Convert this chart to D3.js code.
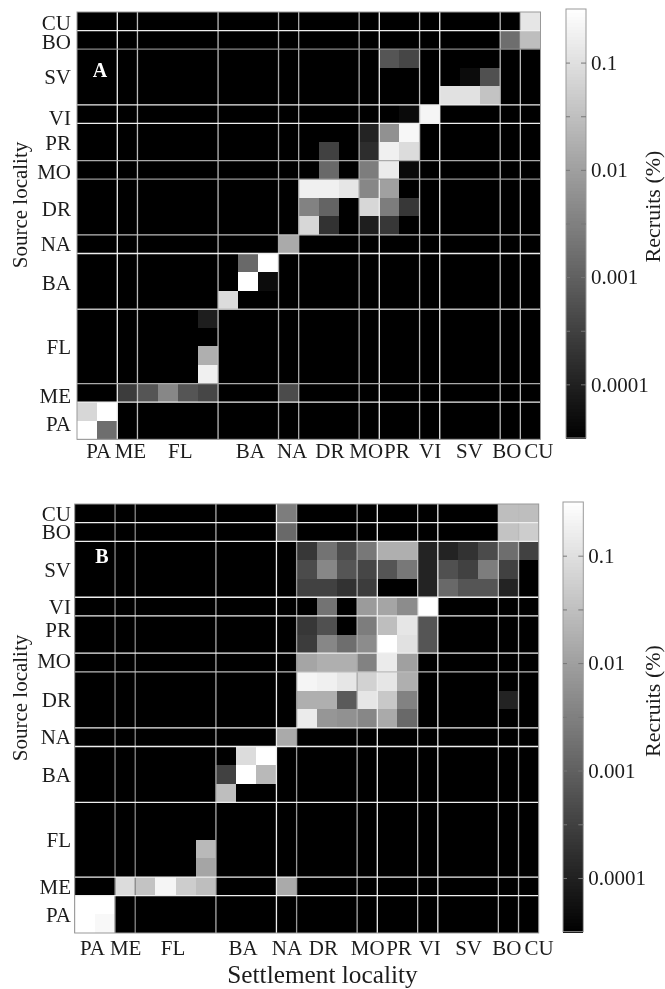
<!DOCTYPE html>
<html>
<head>
<meta charset="utf-8">
<script src="https://cdn.jsdelivr.net/npm/d3@7"></script>
<style>
body { margin: 0; background: #fff; }
svg { display: block; filter: blur(0.4px); }
text { font-family: "Liberation Serif", serif; fill: #1c1c1c; }
</style>
</head>
<body>
<div id="vis"></div>
<script>
// localities along the settlement axis, left to right, and how many sites each has
var localities = ["PA", "ME", "FL", "BA", "NA", "DR", "MO", "PR", "VI", "SV", "BO", "CU"];
var siteCounts = [2, 1, 4, 3, 1, 3, 1, 2, 1, 3, 1, 1];

// colorbar
var majorTicks = [0.1, 0.01, 0.001, 0.0001];
var minorTicks = [0.0316, 0.00316, 0.000316];
var recruitsRange = [0.0000316, 0.316];

// recruits (%) as [source row from top, settlement column from left, value]; the rest are below the scale
var cellsA = [
  [0, 22, 0.128],
  [1, 21, 0.0017], [1, 22, 0.03],
  [2, 15, 0.00068], [2, 16, 0.0004],
  [3, 19, 0.000049], [3, 20, 0.00057],
  [4, 18, 0.107], [4, 19, 0.107], [4, 20, 0.036],
  [5, 16, 0.000045], [5, 17, 0.22],
  [6, 14, 0.000112], [6, 15, 0.0059], [6, 16, 0.237],
  [7, 12, 0.00033], [7, 14, 0.00016], [7, 15, 0.184], [7, 16, 0.089],
  [8, 12, 0.0014], [8, 14, 0.0029], [8, 15, 0.153], [8, 16, 0.000045],
  [9, 11, 0.184], [9, 12, 0.184], [9, 13, 0.128], [9, 14, 0.0041], [9, 15, 0.0102],
  [10, 11, 0.0035], [10, 12, 0.00117], [10, 14, 0.075], [10, 15, 0.0029], [10, 16, 0.00023],
  [11, 11, 0.075], [11, 12, 0.00019], [11, 14, 0.000093], [11, 15, 0.00023],
  [12, 10, 0.0147],
  [13, 8, 0.0014], [13, 9, 0.316],
  [14, 8, 0.316], [14, 9, 0.000049],
  [15, 7, 0.089],
  [16, 6, 0.000093],
  [18, 6, 0.0176],
  [19, 6, 0.184],
  [20, 2, 0.00028], [20, 3, 0.00068], [20, 4, 0.0041], [20, 5, 0.00068], [20, 6, 0.0004], [20, 10, 0.00047],
  [21, 0, 0.075], [21, 1, 0.316],
  [22, 0, 0.316], [22, 1, 0.0017]
];

var cellsB = [
  [0, 10, 0.0029], [0, 21, 0.03], [0, 22, 0.03],
  [1, 10, 0.0014], [1, 21, 0.036], [1, 22, 0.052],
  [2, 11, 0.00023], [2, 12, 0.002], [2, 13, 0.00047], [2, 14, 0.0024], [2, 15, 0.0176], [2, 16, 0.0176],
  [2, 17, 0.000112], [2, 18, 0.000112], [2, 19, 0.00019], [2, 20, 0.00047], [2, 21, 0.0017], [2, 22, 0.00033],
  [3, 11, 0.00047], [3, 12, 0.0041], [3, 13, 0.00068], [3, 14, 0.0004], [3, 15, 0.00068], [3, 16, 0.0024],
  [3, 17, 0.000112], [3, 18, 0.00057], [3, 19, 0.00033], [3, 20, 0.0029], [3, 21, 0.00033],
  [4, 11, 0.00033], [4, 12, 0.00033], [4, 13, 0.00019], [4, 14, 0.00028],
  [4, 17, 0.000112], [4, 18, 0.0014], [4, 19, 0.00068], [4, 20, 0.00068], [4, 21, 0.000112],
  [5, 12, 0.002], [5, 14, 0.0085], [5, 15, 0.0122], [5, 16, 0.005], [5, 17, 0.316],
  [6, 11, 0.00023], [6, 12, 0.00057], [6, 14, 0.0029], [6, 15, 0.03], [6, 16, 0.128], [6, 17, 0.00068],
  [7, 11, 0.00028], [7, 12, 0.0041], [7, 13, 0.0017], [7, 14, 0.005], [7, 15, 0.316], [7, 16, 0.107], [7, 17, 0.00068],
  [8, 11, 0.0122], [8, 12, 0.0176], [8, 13, 0.0176], [8, 14, 0.0035], [8, 15, 0.153], [8, 16, 0.0102],
  [9, 11, 0.22], [9, 12, 0.184], [9, 13, 0.128], [9, 14, 0.062], [9, 15, 0.128], [9, 16, 0.0176],
  [10, 11, 0.0176], [10, 12, 0.0176], [10, 13, 0.00082], [10, 14, 0.128], [10, 15, 0.043], [10, 16, 0.0035], [10, 21, 0.000112],
  [11, 11, 0.153], [11, 12, 0.0071], [11, 13, 0.0059], [11, 14, 0.0041], [11, 15, 0.0147], [11, 16, 0.0014],
  [12, 10, 0.0147],
  [13, 8, 0.089], [13, 9, 0.316],
  [14, 7, 0.00033], [14, 8, 0.316], [14, 9, 0.025],
  [15, 7, 0.03],
  [18, 6, 0.025],
  [19, 6, 0.0122],
  [20, 2, 0.089], [20, 3, 0.036], [20, 4, 0.22], [20, 5, 0.052], [20, 6, 0.03], [20, 10, 0.0147],
  [21, 0, 0.316], [21, 1, 0.316],
  [22, 0, 0.316], [22, 1, 0.245]
];

var svg = d3.select("#vis")
  .append("svg")
  .attr("width", 665)
  .attr("height", 989);

// every site is one cell, so group edges are the running sum of the counts
var nSites = d3.sum(siteCounts);
var edges = d3.cumsum(siteCounts);
var xMiddles = localities.map((d, i) => edges[i] - siteCounts[i] / 2);
var yMiddles = xMiddles.map(d => nSites - d);

var gray = d3.scaleLog()
  .domain(recruitsRange)
  .range(["#000", "#fff"])
  .clamp(true);

function drawPanel(p) {
  var x = d3.scaleLinear().domain([0, nSites]).range([p.left, p.right]);
  var y = d3.scaleLinear().domain([0, nSites]).range([p.top, p.bottom]);

  svg.append("rect")
    .attr("x", p.left)
    .attr("y", p.top)
    .attr("width", p.right - p.left)
    .attr("height", p.bottom - p.top)
    .attr("fill", "#000");

  svg.append("g")
    .attr("shape-rendering", "crispEdges")
    .selectAll("rect")
    .data(p.cells)
    .enter()
    .append("rect")
    .attr("x", d => x(d[1]))
    .attr("y", d => y(d[0]))
    .attr("width", d => x(d[1] + 1) - x(d[1]))
    .attr("height", d => y(d[0] + 1) - y(d[0]))
    .attr("fill", d => gray(d[2]));

  // white separators between localities
  svg.append("g")
    .selectAll("line")
    .data(edges.slice(0, -1))
    .enter()
    .append("line")
    .attr("x1", d => x(d))
    .attr("x2", d => x(d))
    .attr("y1", p.top)
    .attr("y2", p.bottom)
    .attr("stroke-width", 1.3)
    .attr("stroke", (d, i) => p.vLines[i]);

  svg.append("g")
    .selectAll("line")
    .data(edges.slice(0, -1))
    .enter()
    .append("line")
    .attr("x1", p.left)
    .attr("x2", p.right)
    .attr("y1", d => y(nSites - d))
    .attr("y2", d => y(nSites - d))
    .attr("stroke-width", 1.3)
    .attr("stroke", (d, i) => p.hLines[i]);

  svg.append("rect")
    .attr("x", p.left)
    .attr("y", p.top)
    .attr("width", p.right - p.left)
    .attr("height", p.bottom - p.top)
    .attr("fill", "none")
    .attr("stroke", "#999");

  // locality labels
  var bottomAxis = svg.append("g")
    .attr("transform", `translate(0, ${p.bottom})`)
    .call(d3.axisBottom(x)
      .tickValues(xMiddles)
      .tickFormat((d, i) => localities[i])
      .tickSize(0)
      .tickPadding(p.xPad));
  bottomAxis.select(".domain").remove();
  bottomAxis.selectAll("text")
    .attr("font-size", 21)
    .attr("dx", (d, i) => p.xNudge[i]);

  var leftAxis = svg.append("g")
    .attr("transform", `translate(${p.left}, 0)`)
    .call(d3.axisLeft(y)
      .tickValues(yMiddles)
      .tickFormat((d, i) => localities[i])
      .tickSize(0)
      .tickPadding(p.left - 71));
  leftAxis.select(".domain").remove();
  leftAxis.selectAll("text")
    .attr("font-size", 21)
    .attr("dy", (d, i) => p.yNudge[i] + 7);

  svg.append("text")
    .attr("x", p.letterX)
    .attr("y", p.letterY)
    .attr("text-anchor", "middle")
    .attr("font-size", 20)
    .attr("font-weight", "bold")
    .style("fill", "#fff")
    .text(p.letter);

  svg.append("text")
    .attr("transform", `translate(27, ${p.labelY}) rotate(-90)`)
    .attr("text-anchor", "middle")
    .attr("font-size", 21)
    .text("Source locality");

  // colorbar
  var c = p.bar;
  var cy = d3.scaleLog().domain(recruitsRange).range([c.bottom, c.top]);
  var steps = d3.range(0, 128);
  var stepValue = i => recruitsRange[0] * Math.pow(recruitsRange[1] / recruitsRange[0], i / 128);

  svg.append("g")
    .attr("shape-rendering", "crispEdges")
    .selectAll("rect")
    .data(steps)
    .enter()
    .append("rect")
    .attr("x", c.left)
    .attr("y", d => cy(stepValue(d + 1)))
    .attr("width", c.right - c.left)
    .attr("height", d => cy(stepValue(d)) - cy(stepValue(d + 1)) + 1)
    .attr("fill", d => gray(stepValue(d + 0.5)));

  svg.append("rect")
    .attr("x", c.left)
    .attr("y", c.top)
    .attr("width", c.right - c.left)
    .attr("height", c.bottom - c.top)
    .attr("fill", "none")
    .attr("stroke", "#999");

  var rightTicks = svg.append("g")
    .attr("transform", `translate(${c.right}, 0)`)
    .call(d3.axisRight(cy)
      .tickValues(majorTicks.concat(minorTicks))
      .tickFormat(d => majorTicks.includes(d) ? String(d) : "")
      .tickSize(-5)
      .tickPadding(5));
  rightTicks.select(".domain").remove();
  rightTicks.selectAll("line").attr("stroke", "#777");
  rightTicks.selectAll("text").attr("font-size", 21);

  var leftTicks = svg.append("g")
    .attr("transform", `translate(${c.left}, 0)`)
    .call(d3.axisLeft(cy)
      .tickValues(majorTicks.concat(minorTicks))
      .tickFormat("")
      .tickSize(-4));
  leftTicks.select(".domain").remove();
  leftTicks.selectAll("line").attr("stroke", "#777");

  svg.append("text")
    .attr("transform", `translate(660, ${c.labelY}) rotate(-90)`)
    .attr("text-anchor", "middle")
    .attr("font-size", 22)
    .text("Recruits (%)");
}

drawPanel({
  cells: cellsA, letter: "A", letterX: 100, letterY: 77, labelY: 205,
  left: 77, right: 540.5, top: 12, bottom: 439.3, xPad: 4,
  xNudge: [1, 2.5, 2, 1.5, 3, 0.5, -3.5, -3, 0, -1, -4, 8],
  yNudge: [3, 2.5, 0, 1.5, -1, 1.5, 1.5, 0, 3, -1, 2, 1],
  vLines: ["#eee", "#bbb", "#bbb", "#aaa", "#aaa", "#aaa", "#eee", "#bbb", "#eee", "#bbb", "#bbb"],
  hLines: ["#eee", "#888", "#eee", "#eee", "#aaa", "#999", "#bbb", "#eee", "#bbb", "#aaa", "#eee"].reverse(),
  bar: { left: 566, right: 586, top: 9, bottom: 438, labelY: 206.5 }
});

drawPanel({
  cells: cellsB, letter: "B", letterX: 102, letterY: 563, labelY: 698,
  left: 74.7, right: 538.7, top: 504, bottom: 933, xPad: 7,
  xNudge: [-3, 0, -3, -3.5, 0, -4, 0, 1, 1.5, 0, -2, 10],
  yNudge: [0, 0, 0, 0, -1, 0, -2, -5, 0, 0, 0, 0],
  vLines: ["#888", "#888", "#aaa", "#eee", "#999", "#aaa", "#eee", "#bbb", "#eee", "#bbb", "#bbb"],
  hLines: ["#eee", "#eee", "#eee", "#eee", "#eee", "#bbb", "#eee", "#eee", "#eee", "#eee", "#eee"].reverse(),
  bar: { left: 563, right: 583.3, top: 502, bottom: 931.7, labelY: 701 }
});

svg.append("text")
  .attr("x", 322.5)
  .attr("y", 983)
  .attr("text-anchor", "middle")
  .attr("font-size", 25.3)
  .text("Settlement locality");
</script>
</body>
</html>
